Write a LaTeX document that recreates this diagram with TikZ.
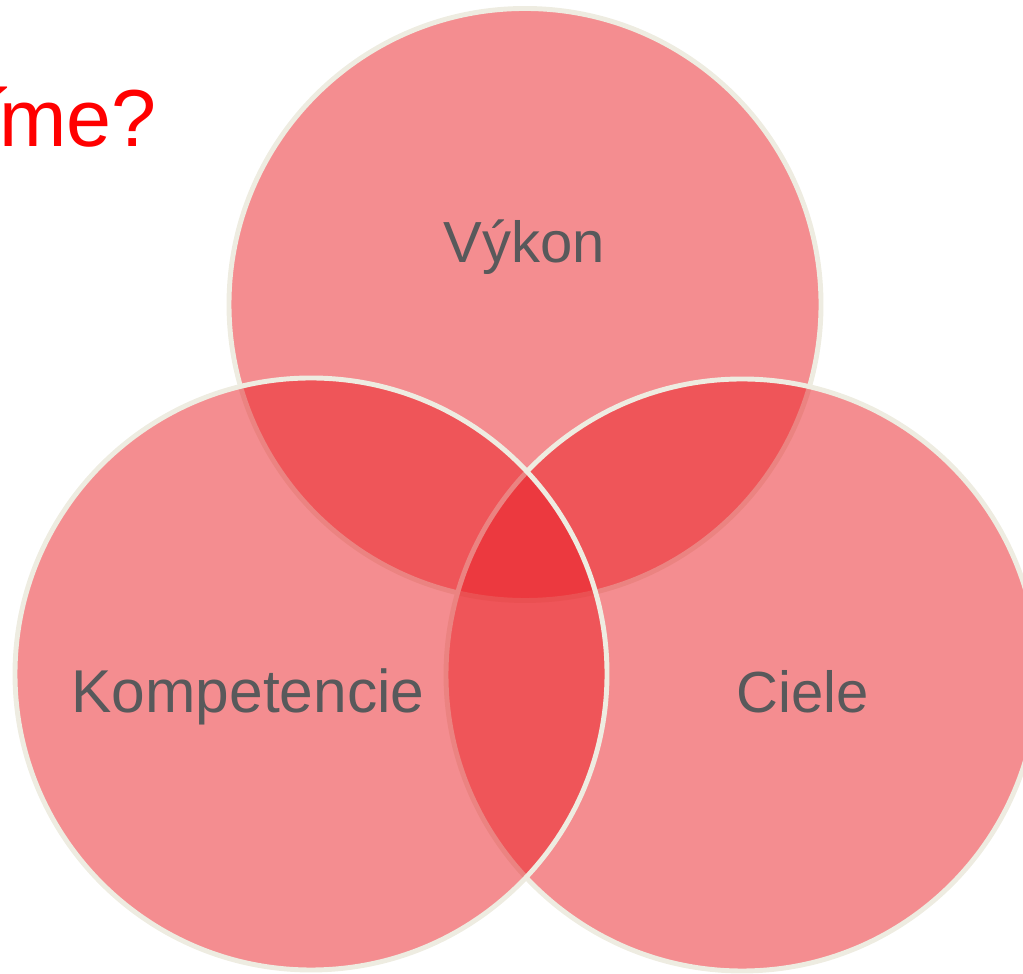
\documentclass[tikz,border=0pt]{standalone}
\usepackage{xcolor}
\usepackage{fontspec}
\setmainfont{Liberation Sans}
\usepackage{tikz}

\definecolor{vennred}{RGB}{234,31,37}
\definecolor{vennrim}{RGB}{238,236,225}
\definecolor{labelgray}{RGB}{88,89,91}
\tikzset{
  venn/.style={circle, minimum size=5.92cm, inner sep=0pt, fill=vennred, fill opacity=0.51, draw=vennrim, line width=1.4pt},
  lbl/.style={anchor=base, inner sep=0pt, text=labelgray, font=\fontsize{16.5pt}{20pt}\selectfont}
}

\begin{document}
\begin{tikzpicture}
\useasboundingbox (0,0) rectangle (10.23,9.74);
\clip (0,0) rectangle (10.23,9.74);
  \node[venn] (vykon) at (5.25,6.695) {};
  \node[venn] (ciele) at (7.42,2.99) {};
  \node[venn] (komp) at (3.11,3.00) {};
  \node[lbl] (tvykon) at (5.24,7.11) {Výkon};
  \node[lbl, font=\fontsize{17.2pt}{20pt}\selectfont] (tkomp) at (2.48,2.61) {Kompetencie};
  \node[lbl] (tciele) at (8.025,2.61) {Ciele};
  \node[anchor=base east, inner sep=0pt, text=red, font=\fontsize{23pt}{28pt}\selectfont] (otazka) at (1.575,8.27) {í\kern-0.1em me?};
\end{tikzpicture}
\end{document}
